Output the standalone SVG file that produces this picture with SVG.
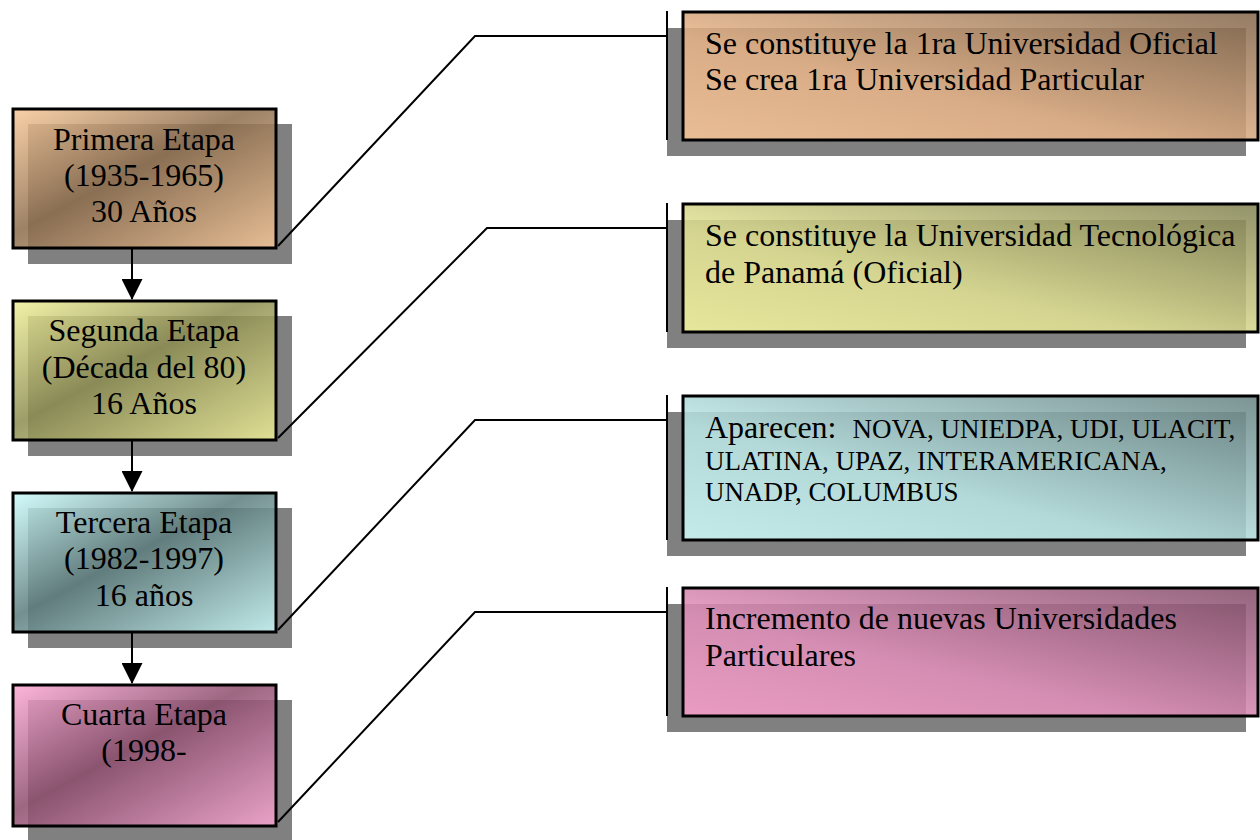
<svg xmlns="http://www.w3.org/2000/svg" width="1260" height="840" viewBox="0 0 1260 840">
<style>
.sh{fill:#808080}
.bx{stroke:#000;stroke-width:3;fill-opacity:0.85}
.t{font-family:"Liberation Serif","Times New Roman",serif;fill:#000}
.lt{font-size:32px;text-anchor:middle}
.rt{font-size:32px}
.st{font-size:27px}
.c{fill:none;stroke:#000;stroke-width:2}
</style>
<defs>
<linearGradient id="gL1" x1="0" y1="0" x2="1" y2="1"><stop offset="0" stop-color="#f8c898"/><stop offset="0.45" stop-color="#8c6c4c"/><stop offset="1" stop-color="#f8c898"/></linearGradient>
<linearGradient id="gL2" x1="0" y1="0" x2="1" y2="1"><stop offset="0" stop-color="#f0f098"/><stop offset="0.45" stop-color="#8c8c50"/><stop offset="1" stop-color="#f0f098"/></linearGradient>
<linearGradient id="gL3" x1="0" y1="0" x2="1" y2="1"><stop offset="0" stop-color="#ccfcfc"/><stop offset="0.45" stop-color="#5c7c7c"/><stop offset="1" stop-color="#ccfcfc"/></linearGradient>
<linearGradient id="gL4" x1="0" y1="0" x2="1" y2="1"><stop offset="0" stop-color="#fca8d4"/><stop offset="0.45" stop-color="#8c4c6c"/><stop offset="1" stop-color="#fca8d4"/></linearGradient>
<linearGradient id="gR1" x1="0" y1="1" x2="1" y2="0"><stop offset="0" stop-color="#fcc898"/><stop offset="0.4" stop-color="#e8b488"/><stop offset="1" stop-color="#806448"/></linearGradient>
<linearGradient id="gR2" x1="0" y1="1" x2="1" y2="0"><stop offset="0" stop-color="#f8f8a0"/><stop offset="0.4" stop-color="#e4e494"/><stop offset="1" stop-color="#808050"/></linearGradient>
<linearGradient id="gR3" x1="0" y1="1" x2="1" y2="0"><stop offset="0" stop-color="#d0fcfc"/><stop offset="0.4" stop-color="#bce8e8"/><stop offset="1" stop-color="#648080"/></linearGradient>
<linearGradient id="gR4" x1="0" y1="1" x2="1" y2="0"><stop offset="0" stop-color="#fca0cc"/><stop offset="0.4" stop-color="#e490bc"/><stop offset="1" stop-color="#804a66"/></linearGradient>
<marker id="ah" markerWidth="21" markerHeight="21" refX="20" refY="10.5" orient="auto" markerUnits="userSpaceOnUse"><path d="M0,0 L21,10.5 L0,21 Z" fill="#000"/></marker>
</defs>

<g id="etapa1">
<rect class="sh" x="28" y="124" width="264" height="140"/>
<rect class="bx" x="13" y="109" width="263" height="139" fill="url(#gL1)"/>
<text class="t lt" x="144" y="150">Primera Etapa</text>
<text class="t lt" x="144" y="186">(1935-1965)</text>
<text class="t lt" x="144" y="222">30 Años</text>
</g>
<g id="etapa2">
<rect class="sh" x="28" y="316" width="264" height="140"/>
<rect class="bx" x="13" y="301" width="263" height="139" fill="url(#gL2)"/>
<text class="t lt" x="144" y="341">Segunda Etapa</text>
<text class="t lt" x="144" y="378">(Década del 80)</text>
<text class="t lt" x="144" y="414">16 Años</text>
</g>
<g id="etapa3">
<rect class="sh" x="28" y="508" width="264" height="140"/>
<rect class="bx" x="13" y="493" width="263" height="139" fill="url(#gL3)"/>
<text class="t lt" x="144" y="533">Tercera Etapa</text>
<text class="t lt" x="144" y="569">(1982-1997)</text>
<text class="t lt" x="144" y="606">16 años</text>
</g>
<g id="etapa4">
<rect class="sh" x="28" y="700" width="264" height="140"/>
<rect class="bx" x="13" y="685" width="263" height="141" fill="url(#gL4)"/>
<text class="t lt" x="144" y="725">Cuarta Etapa</text>
<text class="t lt" x="144" y="761">(1998-</text>
</g>

<g id="hito1">
<rect class="sh" x="667" y="28" width="579" height="128"/>
<rect class="bx" x="683" y="12" width="575" height="128" fill="url(#gR1)"/>
<text class="t rt" x="705" y="54">Se constituye la 1ra Universidad Oficial</text>
<text class="t rt" x="705" y="90">Se crea 1ra Universidad Particular</text>
</g>
<g id="hito2">
<rect class="sh" x="667" y="220" width="579" height="128"/>
<rect class="bx" x="683" y="204" width="575" height="128" fill="url(#gR2)"/>
<text class="t rt" x="705" y="246">Se constituye la Universidad Tecnológica</text>
<text class="t rt" x="705" y="283">de Panamá (Oficial)</text>
</g>
<g id="hito3">
<rect class="sh" x="667" y="412" width="579" height="144"/>
<rect class="bx" x="683" y="396" width="575" height="144" fill="url(#gR3)"/>
<text class="t rt" x="705" y="438" xml:space="preserve">Aparecen:  <tspan class="st">NOVA, UNIEDPA, UDI, ULACIT,</tspan></text>
<text class="t st" x="705" y="470">ULATINA, UPAZ, INTERAMERICANA,</text>
<text class="t st" x="705" y="501">UNADP, COLUMBUS</text>
</g>
<g id="hito4">
<rect class="sh" x="667" y="604" width="579" height="128"/>
<rect class="bx" x="683" y="588" width="575" height="128" fill="url(#gR4)"/>
<text class="t rt" x="705" y="629">Incremento de nuevas Universidades</text>
<text class="t rt" x="705" y="666">Particulares</text>
</g>

<g id="connectors">
<line class="c" x1="132" y1="249" x2="132" y2="299" marker-end="url(#ah)"/>
<line class="c" x1="132" y1="441" x2="132" y2="491" marker-end="url(#ah)"/>
<line class="c" x1="132" y1="633" x2="132" y2="683" marker-end="url(#ah)"/>
<polyline class="c" points="278,246 475,36 667,36"/>
<polyline class="c" points="278,438 487,228 667,228"/>
<polyline class="c" points="278,630 475,420 667,420"/>
<polyline class="c" points="278,822 475,612 667,612"/>
<line class="c" x1="667" y1="11" x2="667" y2="140" stroke-width="3"/>
<line class="c" x1="667" y1="203" x2="667" y2="332" stroke-width="3"/>
<line class="c" x1="667" y1="395" x2="667" y2="540" stroke-width="3"/>
<line class="c" x1="667" y1="587" x2="667" y2="716" stroke-width="3"/>
</g>
</svg>
